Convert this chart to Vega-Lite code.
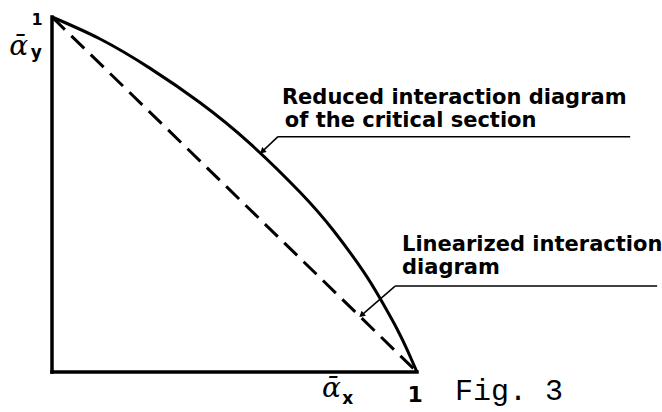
{
  "$schema": "https://vega.github.io/schema/vega-lite/v6.json",
  "width": 365,
  "height": 355,
  "autosize": {"type": "none"},
  "padding": {"left": 52, "top": 17, "right": 245, "bottom": 40},
  "background": "white",
  "config": {"view": {"stroke": null}},
  "datasets": {
    "curve": [
      {"x": 0, "y": 1},
      {"x": 0.132, "y": 0.938},
      {"x": 0.268, "y": 0.856},
      {"x": 0.405, "y": 0.759},
      {"x": 0.542, "y": 0.644},
      {"x": 0.679, "y": 0.507},
      {"x": 0.77, "y": 0.4},
      {"x": 0.852, "y": 0.285},
      {"x": 0.899, "y": 0.207},
      {"x": 0.945, "y": 0.122},
      {"x": 0.975, "y": 0.058},
      {"x": 1, "y": 0}
    ],
    "linear": [
      {"x": 0, "y": 1},
      {"x": 1, "y": 0}
    ],
    "axes": [
      {"x": 0, "y": 0, "x2": 0, "y2": 1},
      {"x": 0, "y": 0, "x2": 1, "y2": 0}
    ],
    "leaders": [
      {"x": 0.619, "y": 0.663, "x2": 1.584, "y2": 0.663},
      {"x": 0.619, "y": 0.663, "x2": 0.575, "y2": 0.62},
      {"x": 0.94, "y": 0.242, "x2": 1.658, "y2": 0.242},
      {"x": 0.94, "y": 0.242, "x2": 0.846, "y2": 0.158}
    ],
    "arrowheads": [
      {"x": 0.578, "y": 0.623},
      {"x": 0.85, "y": 0.162}
    ],
    "notes": [
      {"x": 0.63, "y": 0.755, "label": "Reduced interaction diagram"},
      {"x": 0.638, "y": 0.69, "label": "of the critical section"},
      {"x": 0.959, "y": 0.341, "label": "Linearized interaction"},
      {"x": 0.959, "y": 0.276, "label": "diagram"}
    ],
    "ones": [
      {"x": -0.041, "y": 0.977, "label": "1", "size": "s"},
      {"x": 0.995, "y": -0.085, "label": "1", "size": "l"}
    ],
    "alphas": [
      {"x": -0.117, "y": 0.893, "label": "ᾱ"},
      {"x": 0.74, "y": -0.07, "label": "ᾱ"}
    ],
    "subs": [
      {"x": -0.058, "y": 0.885, "label": "y"},
      {"x": 0.795, "y": -0.09, "label": "x"}
    ],
    "fig": [
      {"x": 1.104, "y": -0.079, "label": "Fig. 3"}
    ]
  },
  "encoding": {
    "x": {"field": "x", "type": "quantitative", "scale": {"domain": [0, 1], "nice": false, "zero": false}, "axis": null},
    "y": {"field": "y", "type": "quantitative", "scale": {"domain": [0, 1], "nice": false, "zero": false}, "axis": null}
  },
  "layer": [
    {
      "data": {"name": "axes"},
      "mark": {"type": "rule", "color": "black", "strokeWidth": 3.5, "strokeCap": "square"},
      "encoding": {"x2": {"field": "x2"}, "y2": {"field": "y2"}}
    },
    {
      "data": {"name": "linear"},
      "mark": {"type": "line", "color": "black", "strokeWidth": 3, "strokeDash": [18, 9]},
      "encoding": {}
    },
    {
      "data": {"name": "curve"},
      "mark": {"type": "line", "color": "black", "strokeWidth": 3, "interpolate": "natural"},
      "encoding": {}
    },
    {
      "data": {"name": "leaders"},
      "mark": {"type": "rule", "color": "black", "strokeWidth": 1.5},
      "encoding": {"x2": {"field": "x2"}, "y2": {"field": "y2"}}
    },
    {
      "data": {"name": "arrowheads"},
      "mark": {"type": "point", "shape": "triangle", "filled": true, "color": "black", "size": 45, "angle": 229, "opacity": 1},
      "encoding": {}
    },
    {
      "data": {"name": "notes"},
      "mark": {"type": "text", "align": "left", "baseline": "alphabetic", "font": "DejaVu Sans", "fontWeight": "bold", "fontSize": 21, "color": "black"},
      "encoding": {"text": {"field": "label"}}
    },
    {
      "data": {"name": "ones"},
      "mark": {"type": "text", "align": "center", "baseline": "alphabetic", "font": "DejaVu Sans", "fontWeight": "bold", "color": "black"},
      "encoding": {
        "text": {"field": "label"},
        "size": {"field": "size", "type": "nominal", "scale": {"domain": ["s", "l"], "range": [16, 22]}, "legend": null}
      }
    },
    {
      "data": {"name": "alphas"},
      "mark": {"type": "text", "align": "left", "baseline": "alphabetic", "font": "DejaVu Serif", "fontStyle": "italic", "fontSize": 28, "color": "black"},
      "encoding": {"text": {"field": "label"}}
    },
    {
      "data": {"name": "subs"},
      "mark": {"type": "text", "align": "left", "baseline": "alphabetic", "font": "DejaVu Sans", "fontWeight": "bold", "fontSize": 17, "color": "black"},
      "encoding": {"text": {"field": "label"}}
    },
    {
      "data": {"name": "fig"},
      "mark": {"type": "text", "align": "left", "baseline": "alphabetic", "font": "Liberation Mono", "fontSize": 30, "color": "black"},
      "encoding": {"text": {"field": "label"}}
    }
  ]
}
